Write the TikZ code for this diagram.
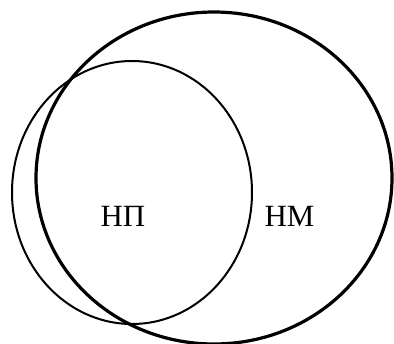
\documentclass[tikz,border=0pt]{standalone}
\usepackage{fontspec}
\setmainfont{Liberation Serif}
\usepackage{tikz}
\usetikzlibrary{shapes.geometric}

\begin{document}
\begin{tikzpicture}[
    x=1bp, y=-1bp,
    font=\fontsize{31}{36}\selectfont,
    setbig/.style={draw, ellipse, line width=3.2bp, inner sep=0pt},
    setsmall/.style={draw, ellipse, line width=2bp, inner sep=0pt},
    lbl/.style={inner sep=0pt, anchor=base}
  ]
    \useasboundingbox (0,0) rectangle (394,344);
    \node[setbig, minimum width=356bp, minimum height=332bp] (NM) at (214,178) {};
    \node[setsmall, minimum width=240bp, minimum height=263bp] (NP) at (132,192.5) {};
    \node[lbl] (np) at (123,226) {НП};
    \node[lbl] (nm) at (289.5,226) {НМ};
  \end{tikzpicture}
\end{document}
